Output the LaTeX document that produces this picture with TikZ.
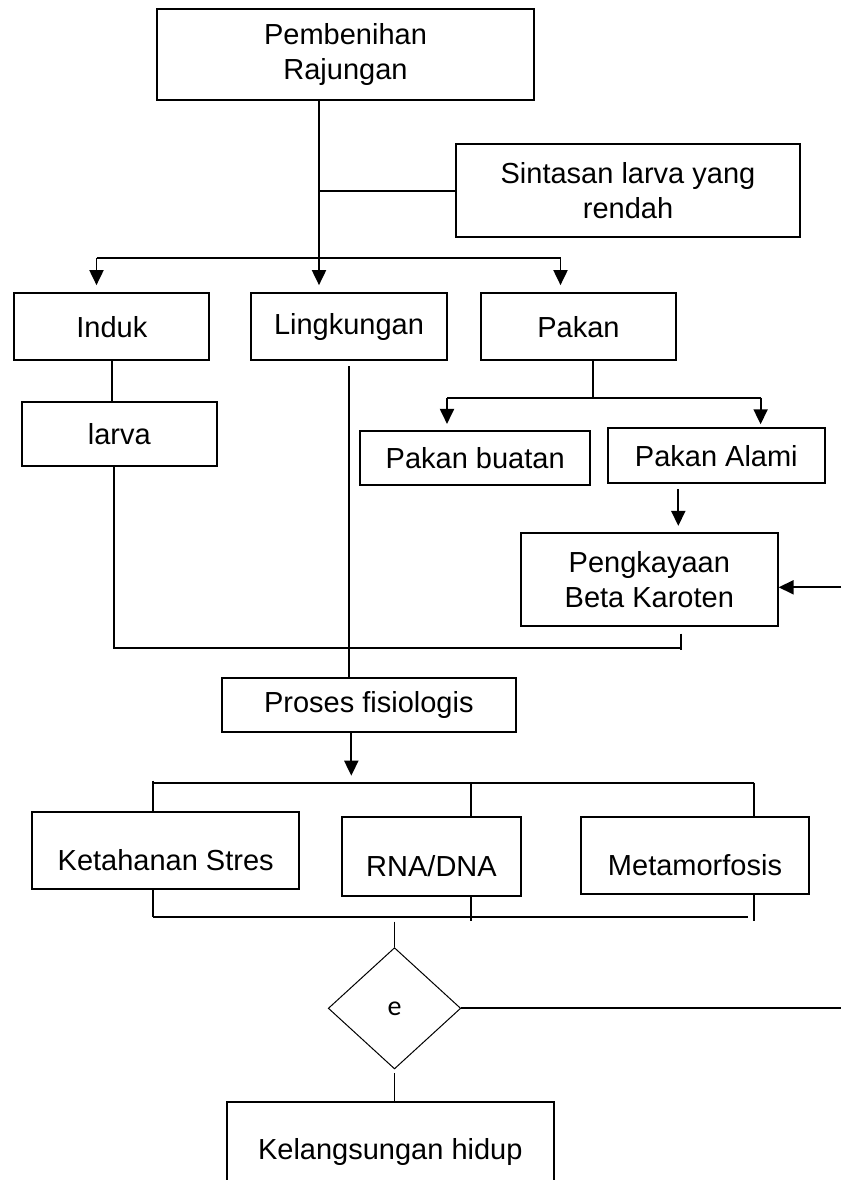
\documentclass[tikz,border=0pt]{standalone}
\usepackage{fontspec}
\setmainfont{Liberation Sans}
\newfontfamily\carlito{Carlito}
\usetikzlibrary{arrows.meta,shapes.geometric}

\begin{document}
\begin{tikzpicture}[x=1pt, y=-1pt, >={Triangle[length=15pt,width=14pt]}]
        % --- Définition des styles ---
        \tikzset{
            box_std/.style={draw, rectangle, line width=2.1pt, inner sep=0pt, align=center, font=\fontsize{29}{35}\selectfont},
            box_low/.style={box_std, text height=39pt, text depth=0pt},
            conn_line/.style={line width=1.9pt},
            conn_arrow/.style={conn_line, ->},
            dec_diamond/.style={draw, diamond, line width=1pt, inner sep=0pt, font=\carlito\fontsize{28}{30}\selectfont}
        }

        % Cadre de la page
        \useasboundingbox (0,0) rectangle (841,1180);
        \clip (0,0) rectangle (841,1180);

        % =====================================================================
        % BLOC HAUT : BOÎTES
        % =====================================================================
        \node[box_std, minimum width=377pt, minimum height=91pt] (pembenihan) at (345.5,54.7) {Pembenihan\\Rajungan};
        \node[box_std, minimum width=344pt, minimum height=93pt] (sintasan) at (628,190.7) {Sintasan larva yang\\rendah};

        \node[box_std, minimum width=195pt, minimum height=67pt] (induk) at (111.8,326.7) {Induk};
        \node[box_std, minimum width=196pt, minimum height=67pt] (lingkungan) at (349,326.7) {Lingkungan};
        \node[box_std, minimum width=195pt, minimum height=67pt] (pakan) at (578.5,326.7) {Pakan};

        \node[box_std, minimum width=195.5pt, minimum height=64.3pt] (larva) at (119.3,433.9) {larva};
        \node[box_std, minimum width=229.6pt, minimum height=54pt] (buatan) at (475.2,458) {Pakan buatan};
        \node[box_std, minimum width=217.5pt, minimum height=54.7pt] (alami) at (716.3,455.7) {Pakan Alami};
        \node[box_std, minimum width=256.5pt, minimum height=92.7pt] (kaya) at (649.3,579.3) {Pengkayaan\\Beta Karoten};

        % =====================================================================
        % BLOC BAS : BOÎTES
        % =====================================================================
        \node[box_std, minimum width=294.5pt, minimum height=54pt] (proses) at (368.8,705.3) {Proses fisiologis};

        \node[box_low, minimum width=267.3pt, minimum height=76.7pt] (stres) at (165.7,850.7) {Ketahanan Stres};
        \node[box_low, minimum width=179.6pt, minimum height=78.7pt] (rna) at (431.5,856.7) {RNA/DNA};
        \node[box_low, minimum width=228pt, minimum height=77pt] (meta) at (695,855.8) {Metamorfosis};

        \node[dec_diamond, minimum width=132.5pt, minimum height=121.3pt] (kondisi) at (394.5,1008.3) {e};
        \node[box_std, minimum width=326.6pt, minimum height=100pt] (hidup) at (390.3,1152) {Kelangsungan hidup};

        % Points de jonction
        \coordinate (cabang) at (319,258.3);
        \coordinate (cabang_kiri) at (96.5,258.3);
        \coordinate (cabang_kanan) at (560.5,258.3);
        \coordinate (pakan_j) at (592.7,397.7);
        \coordinate (pakan_kiri) at (447,397.7);
        \coordinate (pakan_kanan) at (760.6,397.7);
        \coordinate (alami_x) at (678.3,0);
        \coordinate (masuk) at (841,587.3);
        \coordinate (gab_kiri) at (113.7,648.3);
        \coordinate (gab_kanan) at (681,648.3);
        \coordinate (proses_j) at (351.3,782.7);
        \coordinate (bagi_kiri) at (152.9,782.7);
        \coordinate (bagi_tengah) at (471,782.7);
        \coordinate (bagi_kanan) at (753.6,782.7);
        \coordinate (satu_kiri) at (152.9,916.7);
        \coordinate (satu_tengah) at (471,916.7);
        \coordinate (satu_ujung) at (748,916.7);
        \coordinate (satu_kanan) at (753.6,916.7);
        \coordinate (keluar) at (841,1008.3);

        % =====================================================================
        % LIAISONS
        % =====================================================================
        \draw[conn_line] (pembenihan.south -| cabang) -- (cabang);
        \draw[conn_line] (sintasan.west) -- (sintasan.west -| cabang);
        \draw[conn_line] (cabang_kiri) -- (cabang_kanan);
        \draw[conn_arrow, shorten >=7pt] (cabang_kiri) -- (cabang_kiri |- induk.north);
        \draw[conn_arrow, shorten >=7pt] (cabang) -- (cabang |- lingkungan.north);
        \draw[conn_arrow, shorten >=7pt] (cabang_kanan) -- (cabang_kanan |- pakan.north);

        \draw[conn_line] (induk.south) -- (induk.south |- larva.north);
        \draw[conn_line, shorten <=5pt] (lingkungan.south) -- (lingkungan.south |- proses.north);

        \draw[conn_line] (pakan.south -| pakan_j) -- (pakan_j);
        \draw[conn_line] (pakan_kiri) -- (pakan_kanan);
        \draw[conn_arrow, shorten >=6pt] (pakan_kiri) -- (pakan_kiri |- buatan.north);
        \draw[conn_arrow, shorten >=3pt] (pakan_kanan) -- (pakan_kanan |- alami.north);
        \draw[conn_arrow, shorten <=5pt, shorten >=6pt] (alami.south -| alami_x) -- (kaya.north -| alami_x);
        \draw[conn_arrow] (masuk) -- (masuk -| kaya.east);

        % Regroupement vers le processus
        \draw[conn_line] (larva.south -| gab_kiri) -- (gab_kiri) -- (gab_kanan);
        \draw[conn_line, shorten <=7pt] (kaya.south -| gab_kanan) -- ([yshift=-2pt]gab_kanan);

        \draw[conn_arrow, shorten >=7pt] (proses.south -| proses_j) -- (proses_j);
        \draw[conn_line] (bagi_kiri) -- (bagi_kanan);
        \draw[conn_line] ([yshift=2pt]bagi_kiri) -- (bagi_kiri |- stres.north);
        \draw[conn_line] (bagi_tengah) -- (bagi_tengah |- rna.north);
        \draw[conn_line] (bagi_kanan) -- (bagi_kanan |- meta.north);

        \draw[conn_line] (satu_kiri) -- (satu_ujung);
        \draw[conn_line] (stres.south -| satu_kiri) -- (satu_kiri);
        \draw[conn_line] (rna.south -| satu_tengah) -- ([yshift=-4pt]satu_tengah);
        \draw[conn_line] (meta.south -| satu_kanan) -- ([yshift=-4pt]satu_kanan);

        % Décision et sortie
        \draw[conn_line, shorten <=5pt] (satu_kiri -| kondisi.north) -- (kondisi.north);
        \draw[conn_line] (kondisi.east) -- (keluar);
        \draw[conn_line, shorten <=4pt] (kondisi.south) -- (kondisi.south |- hidup.north);

\end{tikzpicture}
\end{document}
